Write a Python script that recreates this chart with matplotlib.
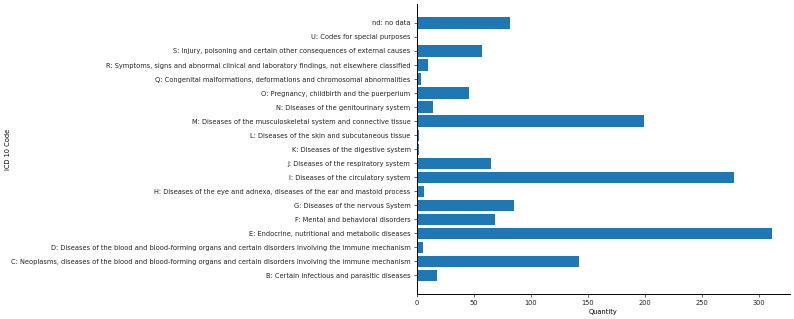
import matplotlib
matplotlib.use("Agg")
import matplotlib.pyplot as plt

codes = [
    "B: Certain infectious and parasitic diseases",
    "C: Neoplasms, diseases of the blood and blood-forming organs and certain disorders involving the immune mechanism",
    "D: Diseases of the blood and blood-forming organs and certain disorders involving the immune mechanism",
    "E: Endocrine, nutritional and metabolic diseases",
    "F: Mental and behavioral disorders",
    "G: Diseases of the nervous System",
    "H: Diseases of the eye and adnexa, diseases of the ear and mastoid process",
    "I: Diseases of the circulatory system",
    "J: Diseases of the respiratory system",
    "K: Diseases of the digestive system",
    "L: Diseases of the skin and subcutaneous tissue",
    "M: Diseases of the musculoskeletal system and connective tissue",
    "N: Diseases of the genitourinary system",
    "O: Pregnancy, childbirth and the puerperium",
    "Q: Congenital malformations, deformations and chromosomal abnormalities",
    "R: Symptoms, signs and abnormal clinical and laboratory findings, not elsewhere classified",
    "S: Injury, poisoning and certain other consequences of external causes",
    "U: Codes for special purposes",
    "nd: no data",
]
quantity = [18, 142, 5, 312, 69, 85, 6, 278, 65, 2, 2, 199, 14, 46, 4, 10, 57, 1, 82]

fs = 4.8
fig, ax = plt.subplots(figsize=(7.94, 3.19), dpi=100)
fig.subplots_adjust(left=0.525, right=0.995, bottom=0.078, top=0.987)

ax.barh(codes, quantity, color="#1f77b4")

ax.spines["top"].set_visible(False)
ax.spines["right"].set_visible(False)
ax.tick_params(labelsize=fs, length=2, width=0.5, pad=2.5, colors="#222222")
for s in ax.spines.values():
    s.set_linewidth(0.7)
ax.set_xlabel("Quantity", fontsize=fs, labelpad=2)
ax.set_ylabel("ICD 10 Code", fontsize=fs)
ax.yaxis.set_label_coords(-1.088, 0.5)

fig.savefig("out.png", dpi=100)
